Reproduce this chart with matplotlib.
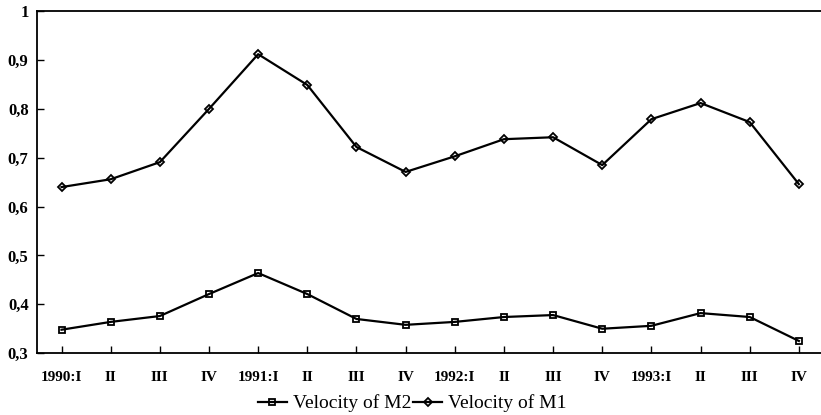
import numpy as np
import matplotlib.pyplot as plt
from matplotlib.ticker import FuncFormatter

# quarterly labels
quarters = ['1990:I', 'II', 'III', 'IV', '1991:I', 'II', 'III', 'IV',
            '1992:I', 'II', 'III', 'IV', '1993:I', 'II', 'III', 'IV']

velocity_m2 = [0.348, 0.364, 0.376, 0.421, 0.464, 0.421, 0.370, 0.358,
               0.364, 0.374, 0.378, 0.350, 0.356, 0.382, 0.374, 0.325]
velocity_m1 = [0.640, 0.656, 0.691, 0.800, 0.912, 0.849, 0.722, 0.671,
               0.703, 0.738, 0.742, 0.685, 0.779, 0.812, 0.773, 0.646]

plt.rcParams['font.family'] = ['Liberation Serif', 'DejaVu Serif']

fig = plt.figure(figsize=(8.21, 4.15), dpi=100)
ax = fig.add_axes([0.045, 0.149, 0.955, 0.824])

x = np.arange(len(quarters))
ax.plot(x, velocity_m2, color='black', lw=1.6, marker='s', ms=5,
        mfc='none', mew=1.3, label='Velocity of M2')
ax.plot(x, velocity_m1, color='black', lw=1.6, marker='D', ms=4,
        mfc='none', mew=1.3, label='Velocity of M1')

ax.set_ylim(0.3, 1.0)
ax.set_xlim(-0.5, 15.45)
ax.set_yticks(np.arange(0.3, 1.01, 0.1))
ax.yaxis.set_major_formatter(FuncFormatter(
    lambda v, p: '1' if abs(v - 1) < 1e-6 else f'{v:.1f}'.replace('.', ',')))
ax.set_xticks(x)
ax.set_xticklabels(quarters)

for s in ['left', 'bottom', 'top']:
    ax.spines[s].set_linewidth(1.3)
ax.spines['right'].set_visible(False)
ax.tick_params(direction='in', length=5, width=1.0)
ax.tick_params(axis='x', pad=13, labelsize=11)
ax.tick_params(axis='y', pad=6, labelsize=12)
for lab in ax.get_xticklabels() + ax.get_yticklabels():
    lab.set_fontweight('bold')

fig.legend(*ax.get_legend_handles_labels(), loc='lower center',
           bbox_to_anchor=(0.502, -0.022), ncol=2, frameon=False, fontsize=14,
           handlelength=1.5, columnspacing=0.1, handletextpad=0.3,
           borderpad=0.1)

fig.savefig('out.png', dpi=100)
